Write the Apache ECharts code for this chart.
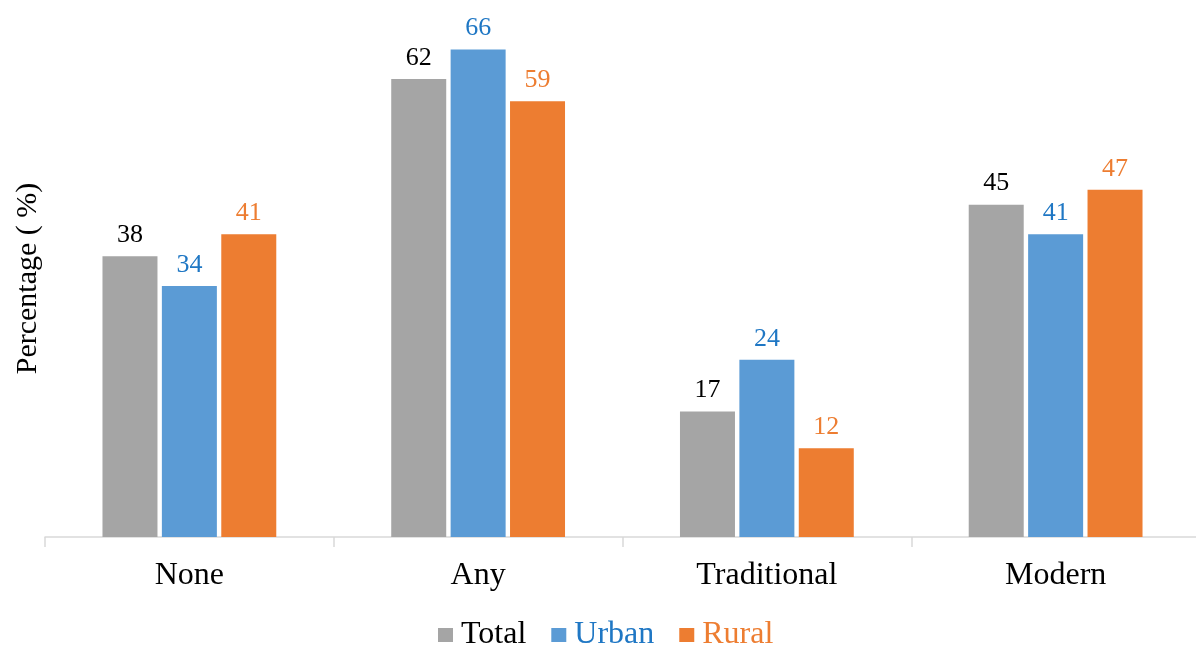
<!DOCTYPE html>
<html><head><meta charset="utf-8">
<script src="https://cdn.jsdelivr.net/npm/echarts@6/dist/echarts.min.js"></script>
<style>html,body{margin:0;padding:0;background:#fff}#c{width:1196px;height:646px}</style>
</head><body><div id="c"></div>
<script>
const categories = ['None', 'Any', 'Traditional', 'Modern'];
const totalValues = [38, 62, 17, 45];
const urbanValues = [34, 66, 24, 41];
const ruralValues = [41, 59, 12, 47];
const seriesNames = ['Total', 'Urban', 'Rural'];

const FONT = '"Liberation Serif", "Times New Roman", serif';
const barColors = ['#A5A5A5', '#5B9BD5', '#ED7D31'];
const labelColors = ['#000000', '#1F77C4', '#ED7D31'];
const dataSets = [totalValues, urbanValues, ruralValues];

const chart = echarts.init(document.getElementById('c'));
chart.setOption({
  animation: false,
  textStyle: { fontFamily: FONT },
  grid: { left: 45, right: -4, top: 20, bottom: 109, containLabel: false, outerBoundsMode: 'none' },
  legend: {
    left: 433, top: 614,
    itemWidth: 15, itemHeight: 14, itemGap: 25,
    icon: 'rect',
    data: seriesNames.map((n, i) => ({ name: n, textStyle: { color: labelColors[i] } })),
    textStyle: { fontFamily: FONT, fontSize: 32, padding: [0, 0, 0, 3] }
  },
  xAxis: {
    type: 'category', data: categories,
    axisLine: { lineStyle: { color: '#D9D9D9', width: 1.5 } },
    axisTick: { show: true, length: 10, lineStyle: { color: '#D9D9D9', width: 1.5 } },
    axisLabel: { color: '#000', fontSize: 32, fontFamily: FONT, margin: 23 }
  },
  yAxis: {
    type: 'value', min: 0, max: 70,
    name: 'Percentage ( %)', nameLocation: 'middle', nameGap: 2,
    nameTextStyle: { color: '#000', fontSize: 30, fontFamily: FONT },
    axisLine: { show: false }, axisTick: { show: false },
    axisLabel: { show: false }, splitLine: { show: false }
  },
  series: seriesNames.map((n, i) => ({
    name: n, type: 'bar', data: dataSets[i],
    barWidth: 55, barGap: '8%',
    itemStyle: { color: barColors[i] },
    label: { show: true, position: 'top', distance: 8, color: labelColors[i], fontSize: 26, fontFamily: FONT }
  }))
});
</script></body></html>
